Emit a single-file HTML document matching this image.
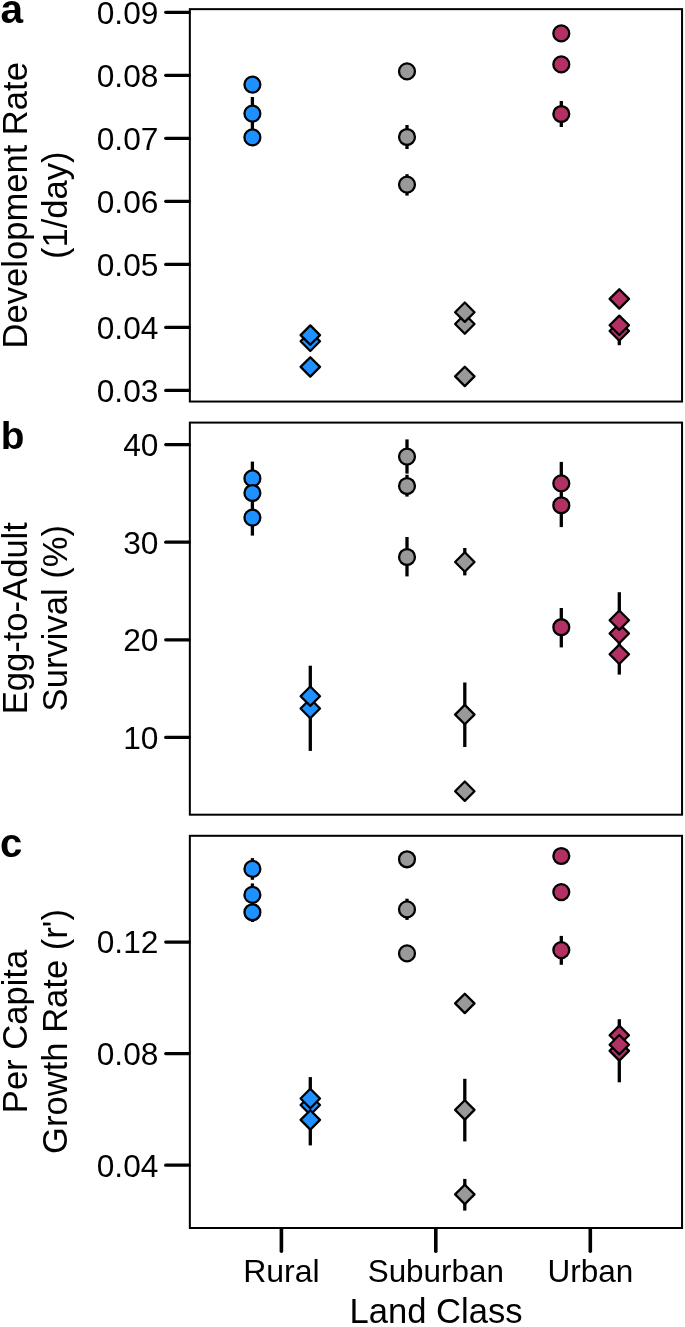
<!DOCTYPE html>
<html><head><meta charset="utf-8"><title>Figure</title>
<style>
html,body{margin:0;padding:0;background:#fff;}
svg{display:block;}
text{font-family:"Liberation Sans",sans-serif;fill:#000;}
.t{font-size:31.7px;text-anchor:end;}
.x{font-size:32px;text-anchor:middle;}
.l{font-size:34.6px;text-anchor:middle;}
.p{font-size:39.5px;font-weight:bold;}
</style></head>
<body>
<svg width="685" height="1327" viewBox="0 0 685 1327">
<rect width="685" height="1327" fill="#fff"/>
<rect x="189.85" y="9.15" width="492.2" height="392.4" fill="none" stroke="#000" stroke-width="2.0"/>
<rect x="189.85" y="422.6" width="492.2" height="392.1" fill="none" stroke="#000" stroke-width="2.0"/>
<rect x="189.85" y="835.8" width="492.2" height="392.2" fill="none" stroke="#000" stroke-width="2.0"/>
<line x1="165.7" y1="12.30" x2="189.15" y2="12.30" stroke="#000" stroke-width="3.2" stroke-linecap="round"/>
<text class="t" x="158.4" y="23.7">0.09</text>
<line x1="165.7" y1="75.32" x2="189.15" y2="75.32" stroke="#000" stroke-width="3.2" stroke-linecap="round"/>
<text class="t" x="158.4" y="86.7">0.08</text>
<line x1="165.7" y1="138.34" x2="189.15" y2="138.34" stroke="#000" stroke-width="3.2" stroke-linecap="round"/>
<text class="t" x="158.4" y="149.7">0.07</text>
<line x1="165.7" y1="201.36" x2="189.15" y2="201.36" stroke="#000" stroke-width="3.2" stroke-linecap="round"/>
<text class="t" x="158.4" y="212.8">0.06</text>
<line x1="165.7" y1="264.38" x2="189.15" y2="264.38" stroke="#000" stroke-width="3.2" stroke-linecap="round"/>
<text class="t" x="158.4" y="275.8">0.05</text>
<line x1="165.7" y1="327.40" x2="189.15" y2="327.40" stroke="#000" stroke-width="3.2" stroke-linecap="round"/>
<text class="t" x="158.4" y="338.8">0.04</text>
<line x1="165.7" y1="390.42" x2="189.15" y2="390.42" stroke="#000" stroke-width="3.2" stroke-linecap="round"/>
<text class="t" x="158.4" y="401.8">0.03</text>
<line x1="165.7" y1="444.56" x2="189.15" y2="444.56" stroke="#000" stroke-width="3.2" stroke-linecap="round"/>
<text class="t" x="158.4" y="456.0">40</text>
<line x1="165.7" y1="542.20" x2="189.15" y2="542.20" stroke="#000" stroke-width="3.2" stroke-linecap="round"/>
<text class="t" x="158.4" y="553.6">30</text>
<line x1="165.7" y1="639.80" x2="189.15" y2="639.80" stroke="#000" stroke-width="3.2" stroke-linecap="round"/>
<text class="t" x="158.4" y="651.2">20</text>
<line x1="165.7" y1="737.44" x2="189.15" y2="737.44" stroke="#000" stroke-width="3.2" stroke-linecap="round"/>
<text class="t" x="158.4" y="748.8">10</text>
<line x1="165.7" y1="942.03" x2="189.15" y2="942.03" stroke="#000" stroke-width="3.2" stroke-linecap="round"/>
<text class="t" x="158.4" y="953.4">0.12</text>
<line x1="165.7" y1="1053.60" x2="189.15" y2="1053.60" stroke="#000" stroke-width="3.2" stroke-linecap="round"/>
<text class="t" x="158.4" y="1065.0">0.08</text>
<line x1="165.7" y1="1165.15" x2="189.15" y2="1165.15" stroke="#000" stroke-width="3.2" stroke-linecap="round"/>
<text class="t" x="158.4" y="1176.6">0.04</text>
<line x1="281.4" y1="1228.7" x2="281.4" y2="1251.3" stroke="#000" stroke-width="3.6" stroke-linecap="round"/>
<text class="x" style="font-size:32px" x="281.4" y="1281.8">Rural</text>
<line x1="435.8" y1="1228.7" x2="435.8" y2="1251.3" stroke="#000" stroke-width="3.6" stroke-linecap="round"/>
<text class="x" style="font-size:31.4px" x="435.8" y="1281.8">Suburban</text>
<line x1="590.3" y1="1228.7" x2="590.3" y2="1251.3" stroke="#000" stroke-width="3.6" stroke-linecap="round"/>
<text class="x" style="font-size:31.5px" x="590.3" y="1281.8">Urban</text>
<text class="l" x="436" y="1323.1">Land Class</text>
<text class="l" transform="translate(26.5 205.3) rotate(-90)">Development Rate</text>
<text class="l" transform="translate(67 205.3) rotate(-90)">(1/day)</text>
<text class="l" transform="translate(26.5 618.2) rotate(-90)">Egg-to-Adult</text>
<text class="l" transform="translate(67 618.2) rotate(-90)">Survival (%)</text>
<text class="l" transform="translate(26.5 1031.5) rotate(-90)">Per Capita</text>
<text class="l" transform="translate(67 1031.5) rotate(-90)">Growth Rate (r')</text>
<text class="p" style="font-size:40.6px" x="0.4" y="23.4">a</text>
<text class="p" style="font-size:38.8px" x="0.7" y="449">b</text>
<text class="p" style="font-size:40.1px" x="0" y="856.7">c</text>
<line x1="252.4" y1="97.0" x2="252.4" y2="130.2" stroke="#000" stroke-width="3.3"/>
<circle cx="252.4" cy="84.6" r="7.95" fill="#1E90FF" stroke="#000" stroke-width="2.3"/>
<circle cx="252.4" cy="113.6" r="7.95" fill="#1E90FF" stroke="#000" stroke-width="2.3"/>
<circle cx="252.4" cy="137.4" r="7.95" fill="#1E90FF" stroke="#000" stroke-width="2.3"/>
<path d="M310.3 331.6L320.0 341.3L310.3 351.0L300.6 341.3Z" fill="#1E90FF" stroke="#000" stroke-width="2.3" stroke-linejoin="round"/>
<path d="M310.3 325.4L320.0 335.1L310.3 344.8L300.6 335.1Z" fill="#1E90FF" stroke="#000" stroke-width="2.3" stroke-linejoin="round"/>
<path d="M310.3 357.2L320.0 366.9L310.3 376.6L300.6 366.9Z" fill="#1E90FF" stroke="#000" stroke-width="2.3" stroke-linejoin="round"/>
<line x1="407" y1="125.0" x2="407" y2="149.0" stroke="#000" stroke-width="3.3"/>
<line x1="407" y1="174.2" x2="407" y2="195.6" stroke="#000" stroke-width="3.3"/>
<circle cx="407" cy="71.4" r="7.95" fill="#999999" stroke="#000" stroke-width="2.3"/>
<circle cx="407" cy="137.0" r="7.95" fill="#999999" stroke="#000" stroke-width="2.3"/>
<circle cx="407" cy="184.6" r="7.95" fill="#999999" stroke="#000" stroke-width="2.3"/>
<path d="M464.8 314.3L474.5 324.0L464.8 333.7L455.1 324.0Z" fill="#999999" stroke="#000" stroke-width="2.3" stroke-linejoin="round"/>
<path d="M464.8 302.5L474.5 312.2L464.8 321.9L455.1 312.2Z" fill="#999999" stroke="#000" stroke-width="2.3" stroke-linejoin="round"/>
<path d="M464.8 366.7L474.5 376.4L464.8 386.1L455.1 376.4Z" fill="#999999" stroke="#000" stroke-width="2.3" stroke-linejoin="round"/>
<line x1="561.3" y1="101.0" x2="561.3" y2="127.0" stroke="#000" stroke-width="3.3"/>
<circle cx="561.3" cy="33.4" r="7.95" fill="#B23063" stroke="#000" stroke-width="2.3"/>
<circle cx="561.3" cy="64.4" r="7.95" fill="#B23063" stroke="#000" stroke-width="2.3"/>
<circle cx="561.3" cy="114.0" r="7.95" fill="#B23063" stroke="#000" stroke-width="2.3"/>
<line x1="619.3" y1="317.0" x2="619.3" y2="345.2" stroke="#000" stroke-width="3.3"/>
<path d="M619.3 289.2L629.0 298.9L619.3 308.6L609.6 298.9Z" fill="#B23063" stroke="#000" stroke-width="2.3" stroke-linejoin="round"/>
<path d="M619.3 321.3L629.0 331.0L619.3 340.7L609.6 331.0Z" fill="#B23063" stroke="#000" stroke-width="2.3" stroke-linejoin="round"/>
<path d="M619.3 315.6L629.0 325.3L619.3 335.0L609.6 325.3Z" fill="#B23063" stroke="#000" stroke-width="2.3" stroke-linejoin="round"/>
<line x1="252.4" y1="461.6" x2="252.4" y2="535.6" stroke="#000" stroke-width="3.3"/>
<circle cx="252.4" cy="478.4" r="7.95" fill="#1E90FF" stroke="#000" stroke-width="2.3"/>
<circle cx="252.4" cy="493.0" r="7.95" fill="#1E90FF" stroke="#000" stroke-width="2.3"/>
<circle cx="252.4" cy="517.6" r="7.95" fill="#1E90FF" stroke="#000" stroke-width="2.3"/>
<line x1="310.3" y1="665.7" x2="310.3" y2="750.9" stroke="#000" stroke-width="3.3"/>
<path d="M310.3 698.8L320.0 708.5L310.3 718.2L300.6 708.5Z" fill="#1E90FF" stroke="#000" stroke-width="2.3" stroke-linejoin="round"/>
<path d="M310.3 686.5L320.0 696.2L310.3 705.9L300.6 696.2Z" fill="#1E90FF" stroke="#000" stroke-width="2.3" stroke-linejoin="round"/>
<line x1="407" y1="439.4" x2="407" y2="473.6" stroke="#000" stroke-width="3.3"/>
<line x1="407" y1="474.8" x2="407" y2="496.6" stroke="#000" stroke-width="3.3"/>
<line x1="407" y1="537.0" x2="407" y2="576.4" stroke="#000" stroke-width="3.3"/>
<circle cx="407" cy="456.6" r="7.95" fill="#999999" stroke="#000" stroke-width="2.3"/>
<circle cx="407" cy="486.0" r="7.95" fill="#999999" stroke="#000" stroke-width="2.3"/>
<circle cx="407" cy="557.0" r="7.95" fill="#999999" stroke="#000" stroke-width="2.3"/>
<line x1="464.8" y1="548.0" x2="464.8" y2="575.4" stroke="#000" stroke-width="3.3"/>
<line x1="464.8" y1="682.5" x2="464.8" y2="747.0" stroke="#000" stroke-width="3.3"/>
<path d="M464.8 552.3L474.5 562.0L464.8 571.7L455.1 562.0Z" fill="#999999" stroke="#000" stroke-width="2.3" stroke-linejoin="round"/>
<path d="M464.8 704.9L474.5 714.6L464.8 724.3L455.1 714.6Z" fill="#999999" stroke="#000" stroke-width="2.3" stroke-linejoin="round"/>
<path d="M464.8 781.5L474.5 791.2L464.8 800.9L455.1 791.2Z" fill="#999999" stroke="#000" stroke-width="2.3" stroke-linejoin="round"/>
<line x1="561.3" y1="461.9" x2="561.3" y2="527.1" stroke="#000" stroke-width="3.3"/>
<line x1="561.3" y1="608.0" x2="561.3" y2="647.4" stroke="#000" stroke-width="3.3"/>
<circle cx="561.3" cy="483.4" r="7.95" fill="#B23063" stroke="#000" stroke-width="2.3"/>
<circle cx="561.3" cy="505.3" r="7.95" fill="#B23063" stroke="#000" stroke-width="2.3"/>
<circle cx="561.3" cy="627.2" r="7.95" fill="#B23063" stroke="#000" stroke-width="2.3"/>
<line x1="619.3" y1="592.2" x2="619.3" y2="674.6" stroke="#000" stroke-width="3.3"/>
<path d="M619.3 623.8L629.0 633.5L619.3 643.2L609.6 633.5Z" fill="#B23063" stroke="#000" stroke-width="2.3" stroke-linejoin="round"/>
<path d="M619.3 610.5L629.0 620.2L619.3 629.9L609.6 620.2Z" fill="#B23063" stroke="#000" stroke-width="2.3" stroke-linejoin="round"/>
<path d="M619.3 644.6L629.0 654.3L619.3 664.0L609.6 654.3Z" fill="#B23063" stroke="#000" stroke-width="2.3" stroke-linejoin="round"/>
<line x1="252.4" y1="858.1" x2="252.4" y2="879.8" stroke="#000" stroke-width="3.3"/>
<line x1="252.4" y1="883.4" x2="252.4" y2="906.0" stroke="#000" stroke-width="3.3"/>
<line x1="252.4" y1="903.0" x2="252.4" y2="922.0" stroke="#000" stroke-width="3.3"/>
<circle cx="252.4" cy="868.9" r="7.95" fill="#1E90FF" stroke="#000" stroke-width="2.3"/>
<circle cx="252.4" cy="894.9" r="7.95" fill="#1E90FF" stroke="#000" stroke-width="2.3"/>
<circle cx="252.4" cy="912.3" r="7.95" fill="#1E90FF" stroke="#000" stroke-width="2.3"/>
<line x1="310.3" y1="1077.1" x2="310.3" y2="1145.4" stroke="#000" stroke-width="3.3"/>
<path d="M310.3 1095.3L320.0 1105.0L310.3 1114.7L300.6 1105.0Z" fill="#1E90FF" stroke="#000" stroke-width="2.3" stroke-linejoin="round"/>
<path d="M310.3 1088.8L320.0 1098.5L310.3 1108.2L300.6 1098.5Z" fill="#1E90FF" stroke="#000" stroke-width="2.3" stroke-linejoin="round"/>
<path d="M310.3 1110.2L320.0 1119.9L310.3 1129.6L300.6 1119.9Z" fill="#1E90FF" stroke="#000" stroke-width="2.3" stroke-linejoin="round"/>
<line x1="407" y1="898.7" x2="407" y2="919.9" stroke="#000" stroke-width="3.3"/>
<circle cx="407" cy="859.3" r="7.95" fill="#999999" stroke="#000" stroke-width="2.3"/>
<circle cx="407" cy="909.4" r="7.95" fill="#999999" stroke="#000" stroke-width="2.3"/>
<circle cx="407" cy="953.4" r="7.95" fill="#999999" stroke="#000" stroke-width="2.3"/>
<line x1="464.8" y1="1078.8" x2="464.8" y2="1141.4" stroke="#000" stroke-width="3.3"/>
<line x1="464.8" y1="1178.9" x2="464.8" y2="1210.6" stroke="#000" stroke-width="3.3"/>
<path d="M464.8 993.7L474.5 1003.4L464.8 1013.1L455.1 1003.4Z" fill="#999999" stroke="#000" stroke-width="2.3" stroke-linejoin="round"/>
<path d="M464.8 1100.2L474.5 1109.9L464.8 1119.6L455.1 1109.9Z" fill="#999999" stroke="#000" stroke-width="2.3" stroke-linejoin="round"/>
<path d="M464.8 1184.7L474.5 1194.4L464.8 1204.1L455.1 1194.4Z" fill="#999999" stroke="#000" stroke-width="2.3" stroke-linejoin="round"/>
<line x1="561.3" y1="935.9" x2="561.3" y2="964.8" stroke="#000" stroke-width="3.3"/>
<circle cx="561.3" cy="856.0" r="7.95" fill="#B23063" stroke="#000" stroke-width="2.3"/>
<circle cx="561.3" cy="892.1" r="7.95" fill="#B23063" stroke="#000" stroke-width="2.3"/>
<circle cx="561.3" cy="950.1" r="7.95" fill="#B23063" stroke="#000" stroke-width="2.3"/>
<line x1="619.3" y1="1019.2" x2="619.3" y2="1082.3" stroke="#000" stroke-width="3.3"/>
<path d="M619.3 1025.6L629.0 1035.3L619.3 1045.0L609.6 1035.3Z" fill="#B23063" stroke="#000" stroke-width="2.3" stroke-linejoin="round"/>
<path d="M619.3 1041.2L629.0 1050.9L619.3 1060.6L609.6 1050.9Z" fill="#B23063" stroke="#000" stroke-width="2.3" stroke-linejoin="round"/>
<path d="M619.3 1035.0L629.0 1044.7L619.3 1054.4L609.6 1044.7Z" fill="#B23063" stroke="#000" stroke-width="2.3" stroke-linejoin="round"/>
</svg>
</body></html>
